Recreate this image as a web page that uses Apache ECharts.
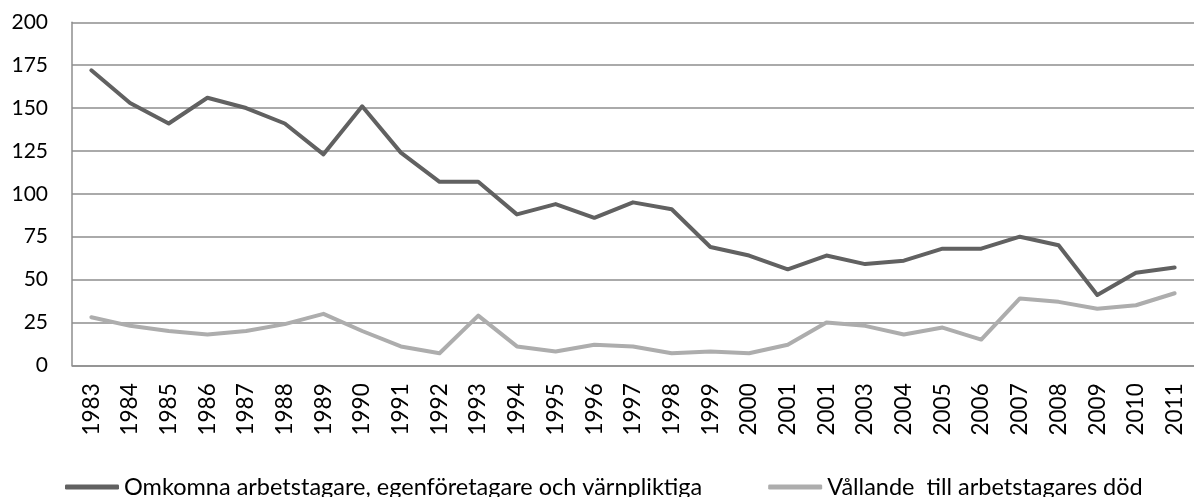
<!DOCTYPE html>
<html>
<head>
<meta charset="utf-8">
<script src="https://cdn.jsdelivr.net/npm/echarts@6/dist/echarts.min.js"></script>
<style>
html,body{margin:0;padding:0;background:#fff;}
#c{width:1194px;height:497px;}
</style>
</head>
<body>
<div id="c"></div>
<script>
const categories = ['1983','1984','1985','1986','1987','1988','1989','1990','1991','1992','1993','1994','1995','1996','1997','1998','1999','2000','2001','2001','2003','2004','2005','2006','2007','2008','2009','2010','2011'];
const seriesNames = ['Omkomna arbetstagare, egenföretagare och värnpliktiga', 'Vållande  till arbetstagares död'];
const omkomna = [172,153,141,156,150,141,123,151,124,107,107,88,94,86,95,91,69,64,56,64,59,61,68,68,75,70,41,54,57];
const vallande = [28,23,20,18,20,24,30,20,11,7,29,11,8,12,11,7,8,7,12,25,23,18,22,15,39,37,33,35,42];
const yTicks = [0,25,50,75,100,125,150,175,200];

const FONT = 'Lato';
const chart = echarts.init(document.getElementById('c'), null, {renderer:'canvas'});
chart.setOption({
  animation:false,
  color:['#616161','#adadad'],
  grid:{left:72, right:-9, top:22.3, bottom:131.7, containLabel:false},
  legend:{
    left:60, top:470,
    itemWidth:54, itemHeight:5, itemGap:66,
    icon:'roundRect',
    textStyle:{fontFamily:FONT, fontSize:23.5, color:'#000'},
    data:seriesNames
  },
  xAxis:{
    type:'category',
    data:categories,
    boundaryGap:true,
    axisLine:{show:true, lineStyle:{color:'#8e8e8e', width:1.5}},
    axisTick:{show:false},
    axisLabel:{rotate:90, interval:0, margin:18, fontFamily:FONT, fontSize:22.5, color:'#000'},
    splitLine:{show:false}
  },
  yAxis:{
    type:'value',
    min:yTicks[0], max:yTicks[yTicks.length-1], interval:25,
    axisLine:{show:true, lineStyle:{color:'#8e8e8e', width:1.5}},
    axisTick:{show:false},
    axisLabel:{margin:24, fontFamily:FONT, fontSize:21, color:'#000'},
    splitLine:{show:true, lineStyle:{color:'#8e8e8e', width:1.5}}
  },
  series:[
    {name:seriesNames[0], type:'line', data:omkomna, symbol:'none', lineStyle:{width:4, cap:'round', join:'round'}},
    {name:seriesNames[1], type:'line', data:vallande, symbol:'none', lineStyle:{width:4, cap:'round', join:'round'}}
  ]
});
</script>
</body>
</html>
